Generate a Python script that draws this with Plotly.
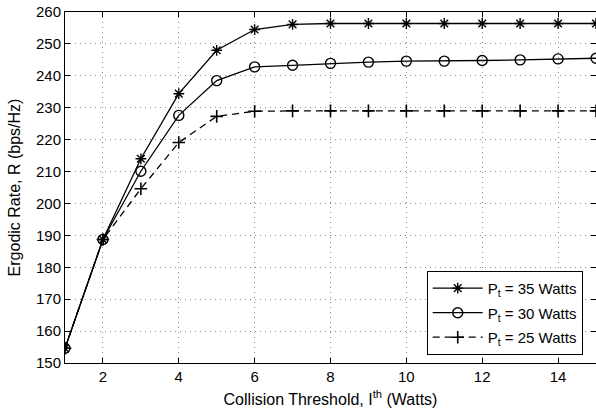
import plotly.graph_objects as go

x_vals = list(range(1, 16))
r_35 = [154.6, 188.7, 214.0, 234.4, 248.0, 254.5, 256.1, 256.4, 256.4, 256.4, 256.4, 256.4, 256.4, 256.4, 256.4]
r_30 = [154.6, 188.7, 210.1, 227.6, 238.5, 242.8, 243.3, 243.9, 244.3, 244.6, 244.6, 244.8, 245.0, 245.3, 245.5]
r_25 = [154.6, 188.7, 204.6, 219.1, 227.3, 228.9, 229.0, 229.0, 229.0, 229.0, 229.0, 229.0, 229.0, 229.0, 229.0]
labels = ["P<sub>t</sub> = 35 Watts", "P<sub>t</sub> = 30 Watts", "P<sub>t</sub> = 25 Watts"]
x_ticks = [2, 4, 6, 8, 10, 12, 14]
y_ticks = list(range(150, 261, 10))

font_family = "Liberation Sans, Arial, sans-serif"

fig = go.Figure()
fig.add_trace(go.Scatter(x=x_vals, y=r_35, name=labels[0], mode="lines+markers", legendgroup="a",
                         line=dict(color="black", width=1.3),
                         marker=dict(symbol="asterisk-open", size=9, color="black",
                                     line=dict(color="black", width=1.4))))
fig.add_trace(go.Scatter(x=x_vals, y=r_30, name=labels[1], mode="lines+markers", legendgroup="b",
                         line=dict(color="black", width=1.3),
                         marker=dict(symbol="circle-open", size=10, color="black",
                                     line=dict(color="black", width=1.4))))
fig.add_trace(go.Scatter(x=x_vals, y=r_25, name=labels[2], mode="lines+markers", legendgroup="c",
                         line=dict(color="black", width=1.3, dash="7px,5px"),
                         marker=dict(symbol="cross-thin-open", size=9, color="black",
                                     line=dict(color="black", width=1.6))))

axis_common = dict(showline=True, linecolor="black", linewidth=1, mirror="ticks",
                   ticks="inside", ticklen=5, tickcolor="black",
                   showgrid=True, gridcolor="#8c8c8c", griddash="1px,4px", gridwidth=1,
                   zeroline=False, tickfont=dict(size=15, color="black", family=font_family))

fig.update_layout(
    width=596, height=415,
    margin=dict(l=65, r=0, t=12, b=52, autoexpand=False),
    plot_bgcolor="white", paper_bgcolor="white",
    font=dict(family=font_family, color="black", size=15),
    xaxis=dict(range=[1, 15], tickvals=x_ticks,
               title=dict(text="Collision Threshold, I<sup>th</sup> (Watts)", standoff=9,
                          font=dict(size=16)), **axis_common),
    yaxis=dict(range=[150, 260], tickvals=y_ticks,
               title=dict(text="Ergodic Rate, R (bps/Hz)", standoff=11, font=dict(size=16)),
               **axis_common),
    legend=dict(x=0.975, y=0.023, xanchor="right", yanchor="bottom",
                bordercolor="black", borderwidth=1, bgcolor="white",
                font=dict(size=15, family=font_family), tracegroupgap=2, itemwidth=50),
    showlegend=True,
)

fig.write_html("out.html", config={"displayModeBar": False},
               post_script="document.body.style.margin='0';")
